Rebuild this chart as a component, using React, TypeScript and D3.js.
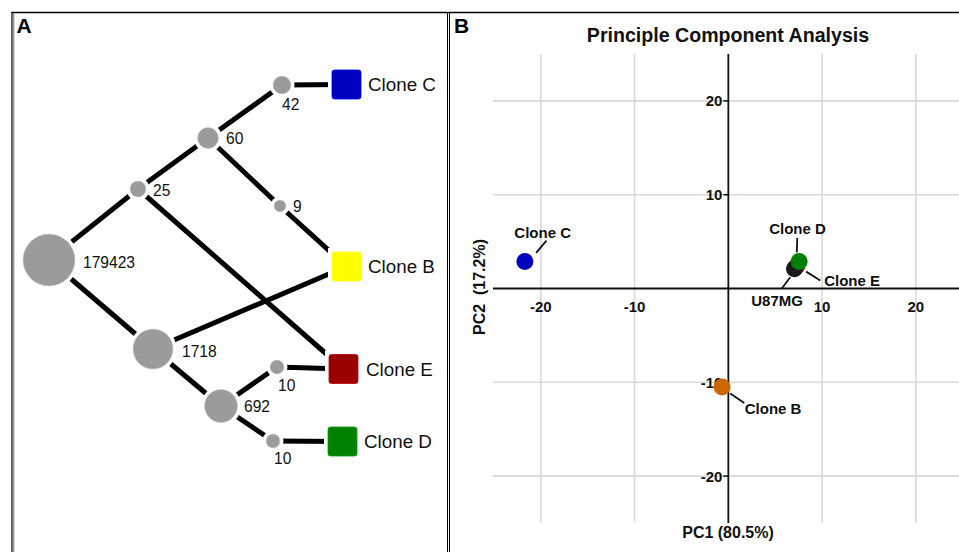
import React from "react";
import * as d3 from "d3";

// ---------- Panel A: clone tree data ----------
const treeNodes = [
  { id: "n179423", label: "179423", cx: 49, cy: 260, r: 26, lx: 83, ly: 262 },
  { id: "n25", label: "25", cx: 138, cy: 189, r: 8, lx: 153, ly: 190 },
  { id: "n60", label: "60", cx: 208, cy: 138, r: 10.5, lx: 226, ly: 138 },
  { id: "n42", label: "42", cx: 282, cy: 85, r: 9, lx: 282, ly: 104 },
  { id: "n9", label: "9", cx: 280, cy: 206, r: 6, lx: 293, ly: 206 },
  { id: "n1718", label: "1718", cx: 153, cy: 349, r: 20, lx: 182, ly: 351 },
  { id: "n692", label: "692", cx: 221, cy: 406, r: 16.5, lx: 244, ly: 406 },
  { id: "n10e", label: "10", cx: 277, cy: 367, r: 7, lx: 278, ly: 385 },
  { id: "n10d", label: "10", cx: 273, cy: 441, r: 7, lx: 274, ly: 458 },
];

const cloneNames = ["Clone C", "Clone B", "Clone E", "Clone D"];
const cloneColors = ["#0000bf", "#ffff00", "#990000", "#008000"];
const cloneX = [346.5, 346.5, 343.5, 342.5];
const cloneY = [84.5, 266.5, 369, 441.5];
const cloneLabelX = [368, 368, 366, 364];

const treeEdges: [string, string][] = [
  ["n179423", "n25"],
  ["n25", "n60"],
  ["n60", "n42"],
  ["n42", "Clone C"],
  ["n60", "n9"],
  ["n9", "Clone B"],
  ["n25", "Clone E"],
  ["n179423", "n1718"],
  ["n1718", "Clone B"],
  ["n1718", "n692"],
  ["n692", "n10e"],
  ["n10e", "Clone E"],
  ["n692", "n10d"],
  ["n10d", "Clone D"],
];

// ---------- Panel B: PCA data ----------
const pcaNames = ["Clone C", "Clone B", "Clone E", "U87MG", "Clone D"];
const pcaColors = ["#0000bf", "#cc6600", "#cc0000", "#1a1a1a", "#008000"];
const pc1 = [-21.7, -0.67, 7.3, 7.05, 7.55];
const pc2 = [2.87, -10.5, 2.4, 2.1, 2.87];
// label anchor (data units) for the leader-line labels
const labelPc1 = [-19.8, 4.77, 13.2, 5.2, 7.38];
const labelPc2 = [6.0, -12.8, 0.87, -1.26, 6.42];
const leaderFrom = [[-20.5, 3.8], [0.2, -11.2], [8.3, 1.8], [6.6, 1.2], [7.35, 5.4]];
const leaderTo = [[-19.4, 5.1], [1.7, -12.2], [9.8, 0.85], [5.7, 0.0], [7.3, 3.85]];

const xTicks = [-20, -10, 10, 20];
const yTicks = [20, 10, -10, -20];
const xGrid = [-20, -10, 10, 20];
const yGrid = [20, 10, -10, -20];

const FONT = "'Liberation Sans', Arial, Helvetica, sans-serif";

export default function App() {
  const W = 959;
  const H = 552;

  const x = d3.scaleLinear().domain([-25.1, 24.6]).range([493, 959]);
  const y = d3.scaleLinear().domain([-25, 25]).range([523, 54]);

  const pos = (id: string): [number, number] => {
    const n = treeNodes.find((d) => d.id === id);
    if (n) return [n.cx, n.cy];
    const i = cloneNames.indexOf(id);
    return [cloneX[i], cloneY[i]];
  };

  const sq = 29;

  return (
    <svg
      width={W}
      height={H}
      style={{ position: "absolute", left: 0, top: 0, background: "#fff" }}
      fontFamily={FONT}
    >
      <rect x={0} y={0} width={W} height={H} fill="#fff" />
      {/* frame */}
      <line x1={11.5} x2={W} y1={12.5} y2={12.5} stroke="#000" strokeWidth={1.6} />
      <line x1={12} x2={12} y1={12} y2={H} stroke="#000" strokeWidth={1.2} />
      <line x1={13.8} x2={13.8} y1={13} y2={H} stroke="#555" strokeWidth={0.8} />
      <line x1={447.5} x2={447.5} y1={12} y2={H} stroke="#000" strokeWidth={1} />
      <line x1={449.5} x2={449.5} y1={12} y2={H} stroke="#000" strokeWidth={1} />

      <text x={16.5} y={33} fontSize={21} fontWeight="bold">A</text>
      <text x={454} y={32.5} fontSize={21} fontWeight="bold">B</text>

      {/* ---------- Panel A ---------- */}
      <g>
        {treeEdges.map(([a, b], i) => {
          const [x1, y1] = pos(a);
          const [x2, y2] = pos(b);
          return (
            <line key={i} x1={x1} y1={y1} x2={x2} y2={y2} stroke="#000" strokeWidth={5} />
          );
        })}
        {treeNodes.map((n) => (
          <g key={n.id}>
            <circle cx={n.cx} cy={n.cy} r={n.r + 3.5} fill="#fff" />
            <circle cx={n.cx} cy={n.cy} r={n.r} fill="#9b9b9b" stroke="#d0d0d0" strokeWidth={0.6} />
            <text x={n.lx} y={n.ly} dy="0.36em" fontSize={15.6} fill="#111">
              {n.label}
            </text>
          </g>
        ))}
        {cloneNames.map((name, i) => (
          <g key={name}>
            <rect x={cloneX[i] - sq / 2 - 4} y={cloneY[i] - sq / 2 - 4} width={sq + 8} height={sq + 8} fill="#fff" />
            <rect
              x={cloneX[i] - sq / 2}
              y={cloneY[i] - sq / 2}
              width={sq}
              height={sq}
              rx={2.5}
              fill={cloneColors[i]}
              stroke={d3.color(cloneColors[i])!.brighter(0.6).toString()}
              strokeWidth={0.8}
            />
            <text x={cloneLabelX[i]} y={cloneY[i]} dy="0.36em" fontSize={18.8} fill="#111">
              {name}
            </text>
          </g>
        ))}
      </g>

      {/* ---------- Panel B ---------- */}
      <g>
        <text x={728} y={35} dy="0.36em" textAnchor="middle" fontSize={19.6} fontWeight="bold" fill="#111">
          Principle Component Analysis
        </text>
        <defs>
          <clipPath id="plotclip">
            <rect x={450} y={14} width={W - 450} height={H - 14} />
          </clipPath>
        </defs>
        <g clipPath="url(#plotclip)">
          {xGrid.map((v) => (
            <line key={"gx" + v} x1={x(v)} x2={x(v)} y1={y(25)} y2={y(-25)} stroke="#d9d9d9" strokeWidth={1.6} />
          ))}
          {yGrid.map((v) => (
            <line key={"gy" + v} x1={x(-25.1)} x2={W} y1={y(v)} y2={y(v)} stroke="#d9d9d9" strokeWidth={1.6} />
          ))}
          {/* axes through origin */}
          <line x1={x(-25.1)} x2={W} y1={y(0)} y2={y(0)} stroke="#111" strokeWidth={1.8} />
          <line x1={x(0)} x2={x(0)} y1={y(25)} y2={y(-25)} stroke="#111" strokeWidth={1.8} />
          {yTicks.map((v) => (
            <g key={"yt" + v}>
              <line x1={x(0) - 5} x2={x(0)} y1={y(v)} y2={y(v)} stroke="#111" strokeWidth={1.5} />
              <text x={x(0) - 6} y={y(v)} dy="0.36em" textAnchor="end" fontSize={15} fontWeight="bold" fill="#111">
                {v}
              </text>
            </g>
          ))}
          {xTicks.map((v) => (
            <text key={"xt" + v} x={x(v)} y={y(0) + 18} dy="0.36em" textAnchor="middle" fontSize={15} fontWeight="bold" fill="#111">
              {v}
            </text>
          ))}

          {/* leader lines */}
          {pcaNames.map((name, i) => (
            <line
              key={"ll" + name}
              x1={x(leaderFrom[i][0])}
              y1={y(leaderFrom[i][1])}
              x2={x(leaderTo[i][0])}
              y2={y(leaderTo[i][1])}
              stroke="#111"
              strokeWidth={1.8}
            />
          ))}
          {/* points */}
          {pcaNames.map((name, i) => (
            <circle key={"pt" + name} cx={x(pc1[i])} cy={y(pc2[i])} r={8.5} fill={pcaColors[i]} />
          ))}
          {pcaNames.map((name, i) => (
            <text
              key={"pl" + name}
              x={x(labelPc1[i])}
              y={y(labelPc2[i])}
              dy="0.36em"
              textAnchor="middle"
              fontSize={15}
              fontWeight="bold"
              fill="#111"
            >
              {name}
            </text>
          ))}
        </g>
        <text x={728} y={532} dy="0.36em" textAnchor="middle" fontSize={16} fontWeight="bold" fill="#111">
          PC1 (80.5%)
        </text>
        <text
          transform={`translate(479,287) rotate(-90)`}
          dy="0.36em"
          textAnchor="middle"
          fontSize={16}
          fontWeight="bold"
          fill="#111"
          style={{ whiteSpace: "pre" }}
        >
          {"PC2  (17.2%)"}
        </text>
      </g>
    </svg>
  );
}
